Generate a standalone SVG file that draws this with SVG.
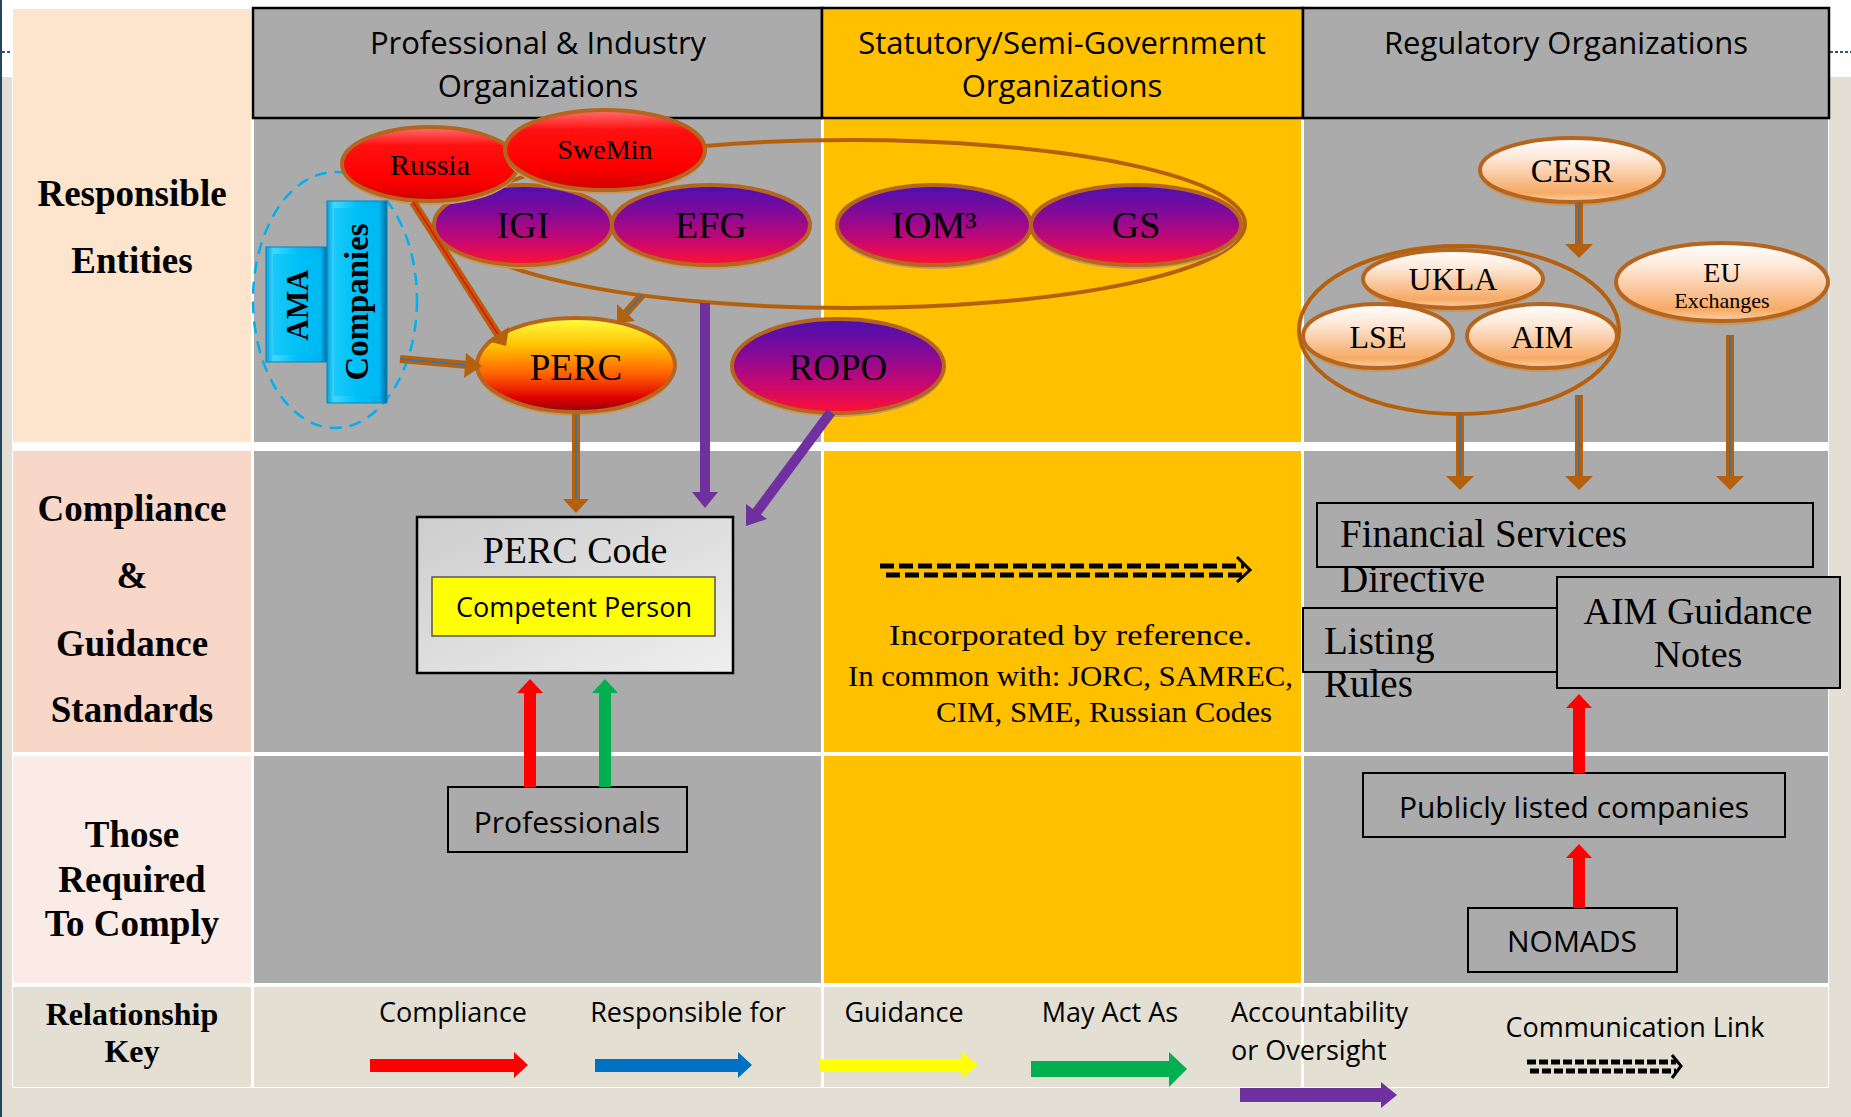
<svg xmlns="http://www.w3.org/2000/svg" width="1851" height="1117" viewBox="0 0 1851 1117">
<defs>
<linearGradient id="gRed" x1="0" y1="0" x2="0" y2="1"><stop offset="0" stop-color="#ff7070"/><stop offset="0.25" stop-color="#ff1010"/><stop offset="0.7" stop-color="#ff0000"/><stop offset="1" stop-color="#d00000"/></linearGradient>
<linearGradient id="gPur" x1="0" y1="0" x2="0" y2="1"><stop offset="0" stop-color="#4a10b0"/><stop offset="0.35" stop-color="#820a98"/><stop offset="0.7" stop-color="#c80870"/><stop offset="1" stop-color="#ff1030"/></linearGradient>
<linearGradient id="gPerc" x1="0" y1="0" x2="0" y2="1"><stop offset="0" stop-color="#ffff40"/><stop offset="0.3" stop-color="#ffc000"/><stop offset="0.6" stop-color="#ff6000"/><stop offset="0.85" stop-color="#e00000"/><stop offset="1" stop-color="#900010"/></linearGradient>
<linearGradient id="gPeach" x1="0" y1="0" x2="0" y2="1"><stop offset="0" stop-color="#ffffff"/><stop offset="0.3" stop-color="#fde9d9"/><stop offset="0.65" stop-color="#f9c090"/><stop offset="0.85" stop-color="#f7aa64"/><stop offset="1" stop-color="#fbd2ac"/></linearGradient>
<linearGradient id="gBlue" x1="0" y1="0" x2="1" y2="0"><stop offset="0" stop-color="#00a0e0"/><stop offset="0.12" stop-color="#40d8ff"/><stop offset="0.5" stop-color="#00c0f8"/><stop offset="0.88" stop-color="#00b0ee"/><stop offset="1" stop-color="#006a9a"/></linearGradient>
<linearGradient id="gBox" x1="0" y1="0" x2="1" y2="1"><stop offset="0" stop-color="#cdcdcd"/><stop offset="1" stop-color="#efefef"/></linearGradient>
</defs>
<style>
.sans{font-family:"Open Sans","Liberation Sans",sans-serif;fill:#000}
.serif{font-family:"Liberation Serif","Times New Roman",serif;fill:#000}
.lbl{font-weight:bold;font-size:37px;text-anchor:middle}
.hdr{font-size:31px;text-anchor:middle}
.mid{text-anchor:middle}
.rim{stroke:#b5651d;stroke-width:4}
.sh{fill:#c8965f}
.box{fill:#ababab;stroke:#000;stroke-width:2}
.brw{stroke:#b5600c;stroke-width:8;fill:none}
.brc{stroke:#2e75b6;stroke-width:1.5}
.brh{fill:#b5600c}
.pur{stroke:#7030a0;stroke-width:10}
.purh{fill:#7030a0}
.red{stroke:#ff0000;stroke-width:12}
.redh{fill:#ff0000}
.grn{stroke:#00b050;stroke-width:12}
.grnh{fill:#00b050}
.dash{stroke:#000;stroke-width:5;stroke-dasharray:14 5;fill:none}
</style>

<!-- background -->
<rect x="0" y="0" width="1851" height="1117" fill="#ffffff"/>
<rect x="0" y="77" width="1851" height="1040" fill="#e4dfd4"/>
<rect x="0" y="0" width="2" height="1117" fill="#24445c"/>
<line x1="2" y1="52" x2="12" y2="52" stroke="#2e5a7a" stroke-width="2" stroke-dasharray="3 2"/>
<line x1="1830" y1="52" x2="1851" y2="52" stroke="#2e5a7a" stroke-width="2" stroke-dasharray="3 2"/>
<rect x="12" y="8" width="1817" height="1080" fill="#ffffff"/>

<!-- table cells -->
<g id="table">
<rect x="13" y="9" width="238" height="433" fill="#fde4cc"/>
<rect x="13" y="451" width="238" height="301" fill="#f8d7c9"/>
<rect x="13" y="756" width="238" height="227" fill="#fbebe6"/>
<rect x="13" y="987" width="238" height="100" fill="#e4dfd3"/>
<rect x="254" y="118" width="567" height="324" fill="#ababab"/>
<rect x="254" y="451" width="567" height="301" fill="#ababab"/>
<rect x="254" y="756" width="567" height="227" fill="#ababab"/>
<rect x="254" y="987" width="567" height="100" fill="#e4dfd3"/>
<rect x="824" y="118" width="477" height="324" fill="#ffc000"/>
<rect x="824" y="451" width="477" height="301" fill="#ffc000"/>
<rect x="824" y="756" width="477" height="227" fill="#ffc000"/>
<rect x="824" y="987" width="477" height="100" fill="#e4dfd3"/>
<rect x="1304" y="118" width="524" height="324" fill="#ababab"/>
<rect x="1304" y="451" width="524" height="301" fill="#ababab"/>
<rect x="1304" y="756" width="524" height="227" fill="#ababab"/>
<rect x="1304" y="987" width="524" height="100" fill="#e4dfd3"/>
</g>

<g id="headers">
<rect x="253" y="8" width="569" height="110" fill="#ababab" stroke="#000" stroke-width="2.5"/>
<rect x="822" y="8" width="481" height="110" fill="#ffc000" stroke="#000" stroke-width="2.5"/>
<rect x="1303" y="8" width="526" height="110" fill="#ababab" stroke="#000" stroke-width="2.5"/>
<text class="sans hdr" x="538" y="54">Professional &amp; Industry</text>
<text class="sans hdr" x="538" y="97">Organizations</text>
<text class="sans hdr" x="1062" y="54">Statutory/Semi-Government</text>
<text class="sans hdr" x="1062" y="97">Organizations</text>
<text class="sans hdr" x="1566" y="54">Regulatory Organizations</text>
</g>

<g id="row-labels">
<text class="serif lbl" x="132" y="206">Responsible</text>
<text class="serif lbl" x="132" y="273">Entities</text>
<text class="serif lbl" x="132" y="521">Compliance</text>
<text class="serif lbl" x="132" y="588">&amp;</text>
<text class="serif lbl" x="132" y="656">Guidance</text>
<text class="serif lbl" x="132" y="722">Standards</text>
<text class="serif lbl" x="132" y="847">Those</text>
<text class="serif lbl" x="132" y="892">Required</text>
<text class="serif lbl" x="132" y="936">To Comply</text>
<text class="serif lbl" x="132" y="1025" style="font-size:32px">Relationship</text>
<text class="serif lbl" x="132" y="1062" style="font-size:32px">Key</text>
</g>

<!-- group outlines -->
<g id="group-ellipse">
<ellipse cx="850" cy="224" rx="395" ry="84" fill="none" stroke="#b5600c" stroke-width="4"/>
</g>
<g id="ama-group">
<ellipse cx="335" cy="300" rx="82" ry="128" fill="none" stroke="#00b0f0" stroke-width="2.5" stroke-dasharray="12 8"/>
</g>
<g id="uk-group">
<ellipse cx="1459" cy="330" rx="160" ry="84" fill="none" stroke="#b5600c" stroke-width="4"/>
</g>

<!-- blue boxes -->
<g id="ama">
<rect x="266" y="247" width="62" height="115" fill="url(#gBlue)" stroke="#0088c0" stroke-width="1"/>
<rect x="273" y="254" width="48" height="101" fill="#00bff5" opacity="0.6"/>
<text class="serif" font-weight="bold" font-size="32" text-anchor="middle" textLength="71" lengthAdjust="spacingAndGlyphs" transform="translate(297,305) rotate(-90)" x="0" y="11">AMA</text>
</g>
<g id="companies">
<rect x="327" y="201" width="60" height="202" fill="url(#gBlue)" stroke="#0088c0" stroke-width="1"/>
<rect x="334" y="208" width="46" height="188" fill="#00bff5" opacity="0.6"/>
<text class="serif" font-weight="bold" font-size="33" text-anchor="middle" textLength="157" lengthAdjust="spacingAndGlyphs" transform="translate(357,302) rotate(-90)" x="0" y="11">Companies</text>
</g>

<!-- purple ovals -->
<g id="igi">
<ellipse class="sh" cx="523" cy="229" rx="89" ry="40"/>
<ellipse cx="523" cy="225" rx="89" ry="40" fill="url(#gPur)" class="rim"/>
<text class="serif mid" x="523" y="238" font-size="38">IGI</text>
</g>
<g id="efg">
<ellipse class="sh" cx="711" cy="229" rx="99" ry="40"/>
<ellipse cx="711" cy="225" rx="99" ry="40" fill="url(#gPur)" class="rim"/>
<text class="serif mid" x="711" y="238" font-size="38">EFG</text>
</g>
<g id="iom3">
<ellipse class="sh" cx="934" cy="229" rx="97" ry="40"/>
<ellipse cx="934" cy="225" rx="97" ry="40" fill="url(#gPur)" class="rim"/>
<text class="serif mid" x="934" y="238" font-size="38">IOM³</text>
</g>
<g id="gs">
<ellipse class="sh" cx="1136" cy="229" rx="105" ry="40"/>
<ellipse cx="1136" cy="225" rx="105" ry="40" fill="url(#gPur)" class="rim"/>
<text class="serif mid" x="1136" y="238" font-size="38">GS</text>
</g>

<!-- red ovals -->
<g id="russia">
<ellipse class="sh" cx="430" cy="168" rx="88" ry="37"/>
<ellipse cx="430" cy="164" rx="88" ry="37" fill="url(#gRed)" class="rim"/>
<text class="serif mid" x="430" y="175" font-size="30">Russia</text>
</g>
<g id="swemin">
<ellipse class="sh" cx="605" cy="154" rx="100" ry="40"/>
<ellipse cx="605" cy="150" rx="100" ry="40" fill="url(#gRed)" class="rim"/>
<text class="serif mid" x="605" y="159" font-size="28">SweMin</text>
</g>

<g id="perc">
<ellipse class="sh" cx="576" cy="369" rx="99" ry="47"/>
<ellipse cx="576" cy="365" rx="99" ry="47" fill="url(#gPerc)" class="rim"/>
<text class="serif mid" x="576" y="380" font-size="37">PERC</text>
</g>
<g id="ropo">
<ellipse class="sh" cx="838" cy="370" rx="106" ry="47"/>
<ellipse cx="838" cy="366" rx="106" ry="47" fill="url(#gPur)" class="rim"/>
<text class="serif mid" x="838" y="380" font-size="37">ROPO</text>
</g>

<!-- peach ovals -->
<g id="cesr">
<ellipse class="sh" cx="1572" cy="174" rx="92" ry="32"/>
<ellipse cx="1572" cy="170" rx="92" ry="32" fill="url(#gPeach)" class="rim"/>
<text class="serif mid" x="1572" y="182" font-size="33">CESR</text>
</g>
<g id="ukla">
<ellipse class="sh" cx="1453" cy="283" rx="90" ry="29"/>
<ellipse cx="1453" cy="279" rx="90" ry="29" fill="url(#gPeach)" class="rim"/>
<text class="serif mid" x="1453" y="290" font-size="32">UKLA</text>
</g>
<g id="lse">
<ellipse class="sh" cx="1378" cy="340" rx="75" ry="32"/>
<ellipse cx="1378" cy="336" rx="75" ry="32" fill="url(#gPeach)" class="rim"/>
<text class="serif mid" x="1378" y="348" font-size="32">LSE</text>
</g>
<g id="aim">
<ellipse class="sh" cx="1542" cy="340" rx="75" ry="32"/>
<ellipse cx="1542" cy="336" rx="75" ry="32" fill="url(#gPeach)" class="rim"/>
<text class="serif mid" x="1542" y="348" font-size="32">AIM</text>
</g>
<g id="eu-exchanges">
<ellipse class="sh" cx="1722" cy="286" rx="106" ry="39"/>
<ellipse cx="1722" cy="282" rx="106" ry="39" fill="url(#gPeach)" class="rim"/>
<text class="serif mid" x="1722" y="282" font-size="28">EU</text>
<text class="serif mid" x="1722" y="308" font-size="22">Exchanges</text>
</g>

<!-- standard boxes -->
<g id="perc-code">
<rect x="417" y="517" width="316" height="156" fill="url(#gBox)" stroke="#000" stroke-width="2.5"/>
<text class="serif mid" x="575" y="563" font-size="38">PERC Code</text>
</g>
<g id="competent-person">
<rect x="432" y="577" width="283" height="59" fill="#ffff00" stroke="#555" stroke-width="1.5"/>
<text class="sans mid" x="574" y="617" font-size="27">Competent Person</text>
</g>
<g id="professionals">
<rect class="box" x="448" y="787" width="239" height="65"/>
<text class="sans mid" x="567" y="833" font-size="30">Professionals</text>
</g>
<g id="incorporated">
<text class="serif" x="889" y="645" font-size="30" textLength="363" lengthAdjust="spacingAndGlyphs">Incorporated by reference.</text>
<text class="serif" x="848" y="686" font-size="30" textLength="445" lengthAdjust="spacingAndGlyphs">In common with: JORC, SAMREC,</text>
<text class="serif" x="936" y="722" font-size="30" textLength="336" lengthAdjust="spacingAndGlyphs">CIM, SME, Russian Codes</text>
</g>
<g id="fsd">
<rect class="box" x="1317" y="503" width="496" height="64"/>
<text class="serif" x="1340" y="547" font-size="39">Financial Services</text>
<text class="serif" x="1340" y="592" font-size="39">Directive</text>
</g>
<g id="listing-rules">
<rect class="box" x="1303" y="608" width="256" height="64"/>
<text class="serif" x="1324" y="654" font-size="39">Listing</text>
<text class="serif" x="1324" y="697" font-size="39">Rules</text>
</g>
<g id="aim-guidance">
<rect class="box" x="1557" y="577" width="283" height="111"/>
<text class="serif mid" x="1698" y="624" font-size="38">AIM Guidance</text>
<text class="serif mid" x="1698" y="667" font-size="38">Notes</text>
</g>
<g id="publicly-listed">
<rect class="box" x="1363" y="773" width="422" height="64"/>
<text class="sans mid" x="1574" y="818" font-size="30">Publicly listed companies</text>
</g>
<g id="nomads">
<rect class="box" x="1468" y="908" width="209" height="64"/>
<text class="sans mid" x="1572" y="952" font-size="30">NOMADS</text>
</g>

<!-- connectors -->
<g id="connectors">
<line class="brw" x1="413" y1="202" x2="499" y2="336"/>
<line x1="413" y1="202" x2="499" y2="336" stroke="#ff0000" stroke-width="1.5"/>
<polygon class="brh" points="506,346 487,341 509,327"/>
<line class="brw" x1="642" y1="295" x2="626" y2="313"/>
<line class="brc" x1="642" y1="295" x2="626" y2="313"/>
<polygon class="brh" points="617,323 635,321 617,304"/>
<line class="brw" x1="400" y1="359" x2="468" y2="365"/>
<line class="brc" x1="400" y1="359" x2="468" y2="365"/>
<polygon class="brh" points="482,366 466,353 464,378"/>
<line class="brw" x1="576" y1="414" x2="576" y2="500"/>
<line class="brc" x1="576" y1="414" x2="576" y2="500"/>
<polygon class="brh" points="563,499 589,499 576,513"/>
<line class="pur" x1="705" y1="303" x2="705" y2="494"/>
<polygon class="purh" points="692,492 718,492 705,508"/>
<line class="pur" x1="831" y1="412" x2="756" y2="513"/>
<polygon class="purh" points="746,526 767,519 746,504"/>
<line class="red" x1="530" y1="787" x2="530" y2="692"/>
<polygon class="redh" points="517,693 543,693 530,679"/>
<line class="grn" x1="605" y1="787" x2="605" y2="692"/>
<polygon class="grnh" points="592,693 618,693 605,679"/>
<line class="dash" x1="880" y1="566" x2="1244" y2="566"/>
<line class="dash" x1="886" y1="575" x2="1244" y2="575"/>
<path d="M1237,557 L1250,570 L1237,582" fill="none" stroke="#000" stroke-width="3"/>
<line class="brw" x1="1579" y1="202" x2="1579" y2="245"/>
<line class="brc" x1="1579" y1="202" x2="1579" y2="245"/>
<polygon class="brh" points="1565,244 1593,244 1579,258"/>
<line class="brw" x1="1460" y1="414" x2="1460" y2="477"/>
<line class="brc" x1="1460" y1="414" x2="1460" y2="477"/>
<polygon class="brh" points="1446,476 1474,476 1460,490"/>
<line class="brw" x1="1579" y1="395" x2="1579" y2="477"/>
<line class="brc" x1="1579" y1="395" x2="1579" y2="477"/>
<polygon class="brh" points="1565,476 1593,476 1579,490"/>
<line class="brw" x1="1730" y1="335" x2="1730" y2="477"/>
<line class="brc" x1="1730" y1="335" x2="1730" y2="477"/>
<polygon class="brh" points="1716,476 1744,476 1730,490"/>
<line class="red" x1="1579" y1="773" x2="1579" y2="707"/>
<polygon class="redh" points="1566,708 1592,708 1579,694"/>
<line class="red" x1="1579" y1="908" x2="1579" y2="857"/>
<polygon class="redh" points="1566,858 1592,858 1579,844"/>
</g>

<!-- relationship key -->
<g id="key">
<text class="sans mid" x="453" y="1022" font-size="27">Compliance</text>
<polygon fill="#ff0000" points="370,1059 514,1059 514,1052 528,1065 514,1078 514,1072 370,1072"/>
<text class="sans mid" x="688" y="1022" font-size="27">Responsible for</text>
<polygon fill="#0070c0" points="595,1059 738,1059 738,1052 752,1065 738,1078 738,1072 595,1072"/>
<text class="sans mid" x="904" y="1022" font-size="27">Guidance</text>
<polygon fill="#ffff00" points="820,1059 962,1059 962,1052 978,1065 962,1078 962,1072 820,1072"/>
<text class="sans mid" x="1110" y="1022" font-size="27">May Act As</text>
<polygon fill="#00b050" points="1031,1061 1169,1061 1169,1052 1187,1069 1169,1087 1169,1077 1031,1077"/>
<text class="sans" x="1231" y="1022" font-size="27">Accountability</text>
<text class="sans" x="1231" y="1060" font-size="27">or Oversight</text>
<polygon fill="#7030a0" points="1240,1088 1381,1088 1381,1082 1397,1095 1381,1108 1381,1102 1240,1102"/>
<text class="sans mid" x="1635" y="1037" font-size="27">Communication Link</text>
<line x1="1527" y1="1062" x2="1676" y2="1062" stroke="#000" stroke-width="5" stroke-dasharray="9 3"/>
<line x1="1530" y1="1071" x2="1676" y2="1071" stroke="#000" stroke-width="5" stroke-dasharray="9 3"/>
<path d="M1672,1055 L1681,1066 L1672,1078" fill="none" stroke="#000" stroke-width="3"/>
</g>
</svg>
